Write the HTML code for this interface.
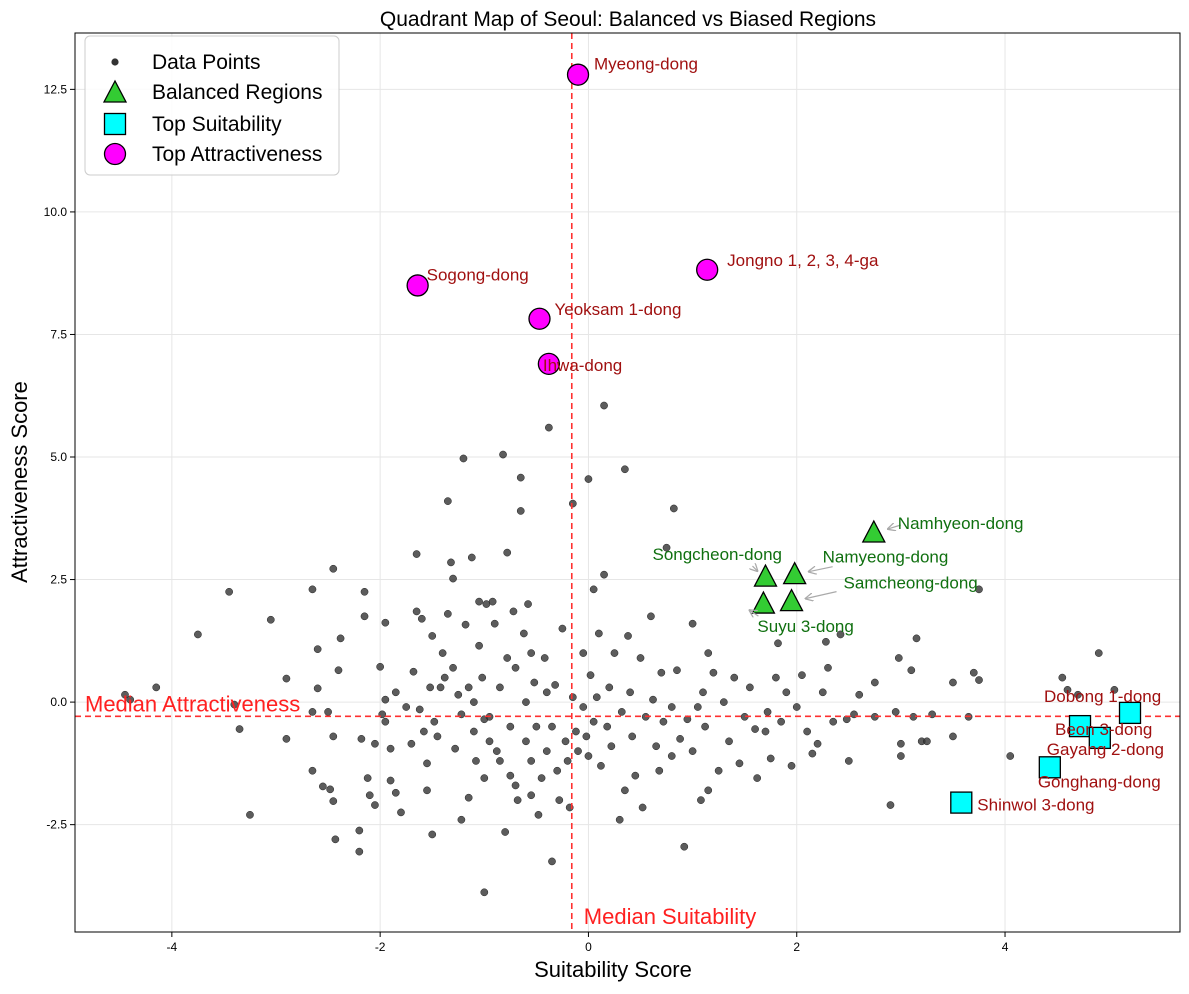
<!DOCTYPE html>
<html><head><meta charset="utf-8"><style>
body{margin:0;background:#fff}
svg text{font-family:"Liberation Sans","Noto Sans CJK KR",sans-serif}
</style></head><body>
<svg id="c" width="1189" height="989" xmlns="http://www.w3.org/2000/svg">
<defs><marker id="ah" viewBox="0 0 10 10" refX="9" refY="5" markerWidth="7" markerHeight="7" orient="auto-start-reverse"><path d="M0,0 L10,5 L0,10" fill="none" stroke="#aaa" stroke-width="1.5"/></marker></defs>
</svg>
<script>
const pts=[[-4.45,0.15],[-4.4,0.05],[-4.15,0.3],[-3.75,1.38],[-3.45,2.25],[-3.4,-0.05],[-3.35,-0.55],[-3.25,-2.3],[-3.05,1.68],[-2.9,0.48],[-2.9,-0.75],[-2.65,2.3],[-2.65,-0.2],[-2.65,-1.4],[-2.6,1.08],[-2.6,0.28],[-2.55,-1.72],[-2.5,-0.2],[-2.48,-1.78],[-2.45,2.72],[-2.45,-0.7],[-2.45,-2.02],[-2.43,-2.8],[-2.4,0.65],[-2.38,1.3],[-2.2,-2.62],[-2.2,-3.05],[-2.18,-0.75],[-2.15,2.25],[-2.15,1.75],[-2.12,-1.55],[-2.1,-1.9],[-2.05,-0.85],[-2.05,-2.1],[-2,0.72],[-1.98,-0.25],[-1.95,1.62],[-1.95,0.05],[-1.95,-0.4],[-1.9,-0.95],[-1.9,-1.6],[-1.85,0.2],[-1.85,-1.85],[-1.8,-2.25],[-1.75,-0.1],[-1.7,-0.85],[-1.68,0.62],[-1.65,1.85],[-1.65,3.02],[-1.62,-0.15],[-1.6,1.7],[-1.58,-0.6],[-1.55,-1.25],[-1.55,-1.8],[-1.52,0.3],[-1.5,-2.7],[-1.5,1.35],[-1.48,-0.4],[-1.45,-0.7],[-1.42,0.3],[-1.4,1.0],[-1.38,0.5],[-1.35,1.8],[-1.35,4.1],[-1.32,2.85],[-1.3,2.52],[-1.3,0.7],[-1.28,-0.95],[-1.25,0.15],[-1.22,-0.25],[-1.22,-2.4],[-1.2,4.97],[-1.18,1.58],[-1.15,0.3],[-1.15,-1.95],[-1.12,2.95],[-1.1,0.0],[-1.1,-0.6],[-1.08,-1.2],[-1.05,2.05],[-1.05,1.15],[-1.02,0.5],[-1.0,-0.35],[-1.0,-1.55],[-1.0,-3.88],[-0.98,2.0],[-0.95,-0.3],[-0.95,-0.8],[-0.92,2.05],[-0.9,1.6],[-0.88,-1.0],[-0.85,0.3],[-0.85,-1.2],[-0.82,5.05],[-0.8,-2.65],[-0.78,3.05],[-0.78,0.9],[-0.75,-0.5],[-0.75,-1.5],[-0.72,1.85],[-0.7,0.7],[-0.7,-1.7],[-0.68,-2.0],[-0.65,4.58],[-0.65,3.9],[-0.62,1.4],[-0.6,0.0],[-0.6,-0.8],[-0.58,2.0],[-0.55,1.0],[-0.55,-1.2],[-0.55,-1.9],[-0.52,0.4],[-0.5,-0.5],[-0.48,-2.3],[-0.45,-1.55],[-0.42,0.9],[-0.4,0.2],[-0.4,-1.0],[-0.38,5.6],[-0.35,-3.25],[-0.35,-0.5],[-0.32,0.35],[-0.3,-1.4],[-0.28,-2.0],[-0.25,1.5],[-0.22,-0.8],[-0.2,-1.2],[-0.18,-2.15],[-0.15,4.05],[-0.15,0.1],[-0.12,-0.6],[-0.1,-1.0],[-0.05,1.0],[-0.05,-0.1],[-0.02,-0.7],[0.0,4.55],[0.0,-1.1],[0.02,0.55],[0.05,2.3],[0.05,-0.4],[0.08,0.1],[0.1,1.4],[0.12,-1.3],[0.15,6.05],[0.15,2.6],[0.18,-0.5],[0.2,0.3],[0.22,-0.9],[0.25,1.0],[0.3,-2.4],[0.32,-0.2],[0.35,4.75],[0.35,-1.8],[0.38,1.35],[0.4,0.2],[0.42,-0.7],[0.45,-1.5],[0.5,0.9],[0.52,-2.15],[0.55,-0.3],[0.6,1.75],[0.62,0.05],[0.65,-0.9],[0.68,-1.4],[0.7,0.6],[0.72,-0.4],[0.75,3.15],[0.8,-0.1],[0.8,-1.1],[0.82,3.95],[0.85,0.65],[0.88,-0.75],[0.92,-2.95],[0.95,-0.35],[1.0,1.6],[1.0,-1.0],[1.05,-0.1],[1.08,-2.0],[1.1,0.2],[1.12,-0.5],[1.15,1.0],[1.15,-1.8],[1.2,0.6],[1.25,-1.4],[1.3,0.0],[1.35,-0.8],[1.4,0.5],[1.45,-1.25],[1.5,-0.3],[1.55,0.3],[1.6,-0.55],[1.62,-1.55],[1.7,-0.6],[1.72,-0.2],[1.75,-1.15],[1.8,0.5],[1.82,1.2],[1.85,-0.4],[1.9,0.2],[1.95,-1.3],[2.0,-0.1],[2.05,0.55],[2.1,-0.6],[2.15,-1.05],[2.2,-0.85],[2.25,0.2],[2.28,1.23],[2.3,0.7],[2.35,-0.4],[2.42,1.38],[2.48,-0.35],[2.5,-1.2],[2.55,-0.25],[2.6,0.15],[2.75,0.4],[2.75,-0.3],[2.9,-2.1],[2.95,-0.2],[2.98,0.9],[3.0,-1.1],[3.0,-0.85],[3.1,0.65],[3.12,-0.3],[3.15,1.3],[3.2,-0.8],[3.25,-0.8],[3.3,-0.25],[3.5,0.4],[3.5,-0.7],[3.65,-0.3],[3.7,0.6],[3.75,0.45],[3.75,2.3],[4.05,-1.1],[4.55,0.5],[4.6,0.25],[4.7,0.15],[4.9,1.0],[5.05,0.25]];
const attrNames=["Myeong-dong","Jongno 1, 2, 3, 4-ga","Sogong-dong","Yeoksam 1-dong","Ihwa-dong"];
const attrX=[-0.1,1.14,-1.64,-0.47,-0.38];
const attrY=[12.8,8.82,8.5,7.82,6.9];
const balNames=["Namhyeon-dong","Songcheon-dong","Namyeong-dong","Samcheong-dong","Suyu 3-dong"];
const balX=[2.74,1.7,1.98,1.95,1.68];
const balY=[3.45,2.55,2.6,2.05,2.0];
const suitNames=["Dobong 1-dong","Beon 3-dong","Gayang 2-dong","Gonghang-dong","Shinwol 3-dong"];
const suitX=[5.2,4.72,4.91,4.43,3.58];
const suitY=[-0.22,-0.49,-0.73,-1.33,-2.05];
const medX=-0.16, medY=-0.29;
const xTicks=[-4,-2,0,2,4];
const yTicks=[-2.5,0,2.5,5,7.5,10,12.5];

const L=75,R=1180,T=33,B=932,X0=-4.93,X1=5.68,Y0=-4.69,Y1=13.65;
const sx=v=>L+(v-X0)/(X1-X0)*(R-L);
const sy=v=>B-(v-Y0)/(Y1-Y0)*(B-T);
const svg=document.getElementById('c');
const NS='http://www.w3.org/2000/svg';
function mk(tag,a,txt){const e=document.createElementNS(NS,tag);for(const k in a)e.setAttribute(k,a[k]);if(txt!==undefined)e.textContent=txt;svg.appendChild(e);return e;}
let e;
xTicks.forEach(t=>{e=mk('line',{x1:sx(t),x2:sx(t),y1:T,y2:B,stroke:'#e6e6e6'});


e=mk('line',{x1:sx(t),x2:sx(t),y1:B,y2:B+5,stroke:'#000'});


e=mk('text',{x:sx(t),y:B+19,'font-size':12,'text-anchor':'middle'},String(t));

});
yTicks.forEach(t=>{e=mk('line',{x1:L,x2:R,y1:sy(t),y2:sy(t),stroke:'#e6e6e6'});


e=mk('line',{x1:L-5,x2:L,y1:sy(t),y2:sy(t),stroke:'#000'});


e=mk('text',{x:L-8,y:sy(t)+4,'font-size':12,'text-anchor':'end'},t.toFixed(1));

});
pts.forEach(p=>{e=mk('circle',{cx:sx(p[0]),cy:sy(p[1]),r:3.6,fill:'#333','fill-opacity':0.8,stroke:'#222','stroke-width':0.5});

});
e=mk('line',{x1:sx(medX),x2:sx(medX),y1:T,y2:B,stroke:'#ff3030','stroke-width':1.6,'stroke-dasharray':'6,4'});


e=mk('line',{x1:L,x2:R,y1:sy(medY),y2:sy(medY),stroke:'#ff3030','stroke-width':1.6,'stroke-dasharray':'6,4'});


e=mk('text',{x:sx(medX)+12,y:B-8,'font-size':22,fill:'#ff2020'},'Median Suitability');


e=mk('text',{x:L+10,y:sy(medY)-5,'font-size':22,fill:'#ff2020'},'Median Attractiveness');


attrX.forEach((x,i)=>{e=mk('circle',{cx:sx(x),cy:sy(attrY[i]),r:10.5,fill:'#ff00ff',stroke:'#000','stroke-width':1.3});

});
balX.forEach((x,i)=>{const cx=sx(x),cy=sy(balY[i]);e=mk('polygon',{points:`${cx},${cy-12} ${cx-11},${cy+9} ${cx+11},${cy+9}`,fill:'#33cc33',stroke:'#000','stroke-width':1.3});

});
suitX.forEach((x,i)=>{const cx=sx(x),cy=sy(suitY[i]);e=mk('rect',{x:cx-10.5,y:cy-10.5,width:21,height:21,fill:'#00ffff',stroke:'#000','stroke-width':1.3});

});
// arrows for balanced labels (start offset, end offset in px from marker)
const balArrow=[[[27,-8],[14,-4]],[[-13,-11],[-8,-6]],[[38,-8],[14,-3]],[[45,-10],[14,-3]],[[-5,12],[-14,6]]];
balArrow.forEach((a,i)=>{const cx=sx(balX[i]),cy=sy(balY[i]);e=mk('line',{x1:cx+a[0][0],y1:cy+a[0][1],x2:cx+a[1][0],y2:cy+a[1][1],stroke:'#aaa','stroke-width':1.2,'marker-end':'url(#ah)'});

});
const attrOff=[[16,-5],[20,-4],[9,-5],[15,-4],[-6,7]];
attrNames.forEach((n,i)=>{e=mk('text',{x:sx(attrX[i])+attrOff[i][0],y:sy(attrY[i])+attrOff[i][1],'font-size':17,fill:'#a01010'},n);

});
const balOff=[[24,-4],[-113,-17],[28,-12],[52,-13],[-6,28]];
balNames.forEach((n,i)=>{e=mk('text',{x:sx(balX[i])+balOff[i][0],y:sy(balY[i])+balOff[i][1],'font-size':17,fill:'#107010'},n);

});
const suitOff=[[-86,-11],[-25,9],[-53,17],[-12,20],[16,8]];
suitNames.forEach((n,i)=>{e=mk('text',{x:sx(suitX[i])+suitOff[i][0],y:sy(suitY[i])+suitOff[i][1],'font-size':17,fill:'#a01010'},n);

});
e=mk('rect',{x:L,y:T,width:R-L,height:B-T,fill:'none',stroke:'#000','stroke-width':1});


e=mk('text',{x:628,y:26,'font-size':21,'text-anchor':'middle'},'Quadrant Map of Seoul: Balanced vs Biased Regions');


e=mk('text',{x:613,y:977,'font-size':22,'text-anchor':'middle'},'Suitability Score');


e=mk('text',{x:27,y:482,'font-size':22,'text-anchor':'middle',transform:'rotate(-90 27 482)'},'Attractiveness Score');


e=mk('rect',{x:85,y:36,width:254,height:139,rx:5,fill:'#fff','fill-opacity':0.85,stroke:'#ccc'});


e=mk('circle',{cx:115,cy:62,r:3.6,fill:'#333'});


e=mk('polygon',{points:'115,81 104,102 126,102',fill:'#33cc33',stroke:'#000','stroke-width':1.3});


e=mk('rect',{x:104.5,y:113.5,width:21,height:21,fill:'#00ffff',stroke:'#000','stroke-width':1.3});


e=mk('circle',{cx:115,cy:154,r:10.5,fill:'#ff00ff',stroke:'#000','stroke-width':1.3});


[['Data Points',69],['Balanced Regions',99],['Top Suitability',131],['Top Attractiveness',161]].forEach(a=>{e=mk('text',{x:152,y:a[1],'font-size':21},a[0]);

});
</script>
</body></html>
